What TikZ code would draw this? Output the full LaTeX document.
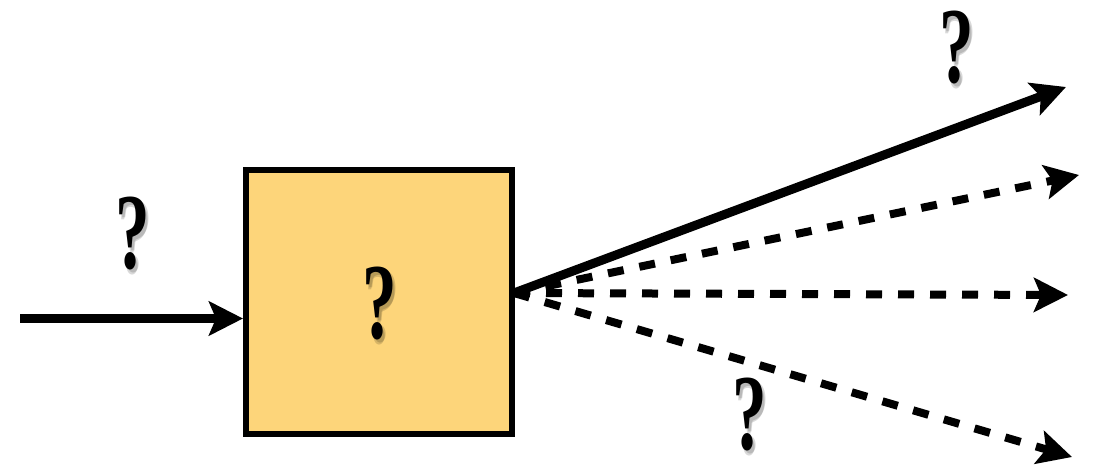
\documentclass[tikz,border=0pt]{standalone}
\usepackage{graphicx}
\usepackage{fontspec}
\setmainfont{Liberation Serif}
\usetikzlibrary{arrows.meta}
\definecolor{boxfill}{RGB}{253,213,122}
\newcommand{\qmark}{\scalebox{0.64}[1]{\fontsize{108}{110}\selectfont\bfseries ?}}
\tikzset{
  x=1pt, y=-1pt,
  conn/.style={line width=9pt, -{Stealth[length=34pt, width=34pt, inset=7pt]}},
  dconn/.style={conn, line width=8pt, dash pattern=on 16pt off 16pt},
  qlabel/.style={inner sep=0pt, anchor=center, text=black},
  qshadow/.style={inner sep=0pt, anchor=center, text=black, opacity=0.15},
  blockbox/.style={draw=black, line width=6pt, fill=boxfill, minimum width=266pt, minimum height=264pt, inner sep=0pt}
}
\begin{document}
\begin{tikzpicture}
\useasboundingbox (0,0) rectangle (1103,468);
\node[blockbox] (box) at (379,302) {};
\coordinate (in) at (20,318.5);
\coordinate (src) at (514,293);
\coordinate (t1) at (1066,87);
\coordinate (t2) at (1079,175);
\coordinate (t3) at (1068,295);
\coordinate (t4) at (1072,457);
\draw[conn] (in) -- (box.west |- in);
\draw[conn] (src) -- (t1);
\draw[dconn] (src) -- (t2);
\draw[dconn] (src) -- (t3);
\draw[dconn] (src) -- (t4);
\foreach \p/\q in {133/234, 380/304, 957/48, 750/415}{
  \node[qshadow] at (\p+3,\q+3) {\qmark};
  \node[qshadow] at (\p+2,\q+5) {\qmark};
}
\node[qlabel] (qin) at (133,234) {\qmark};
\node[qlabel] (qbox) at (380,304) {\qmark};
\node[qlabel] (qtop) at (957,48) {\qmark};
\node[qlabel] (qbot) at (750,415) {\qmark};
\end{tikzpicture}
\end{document}
